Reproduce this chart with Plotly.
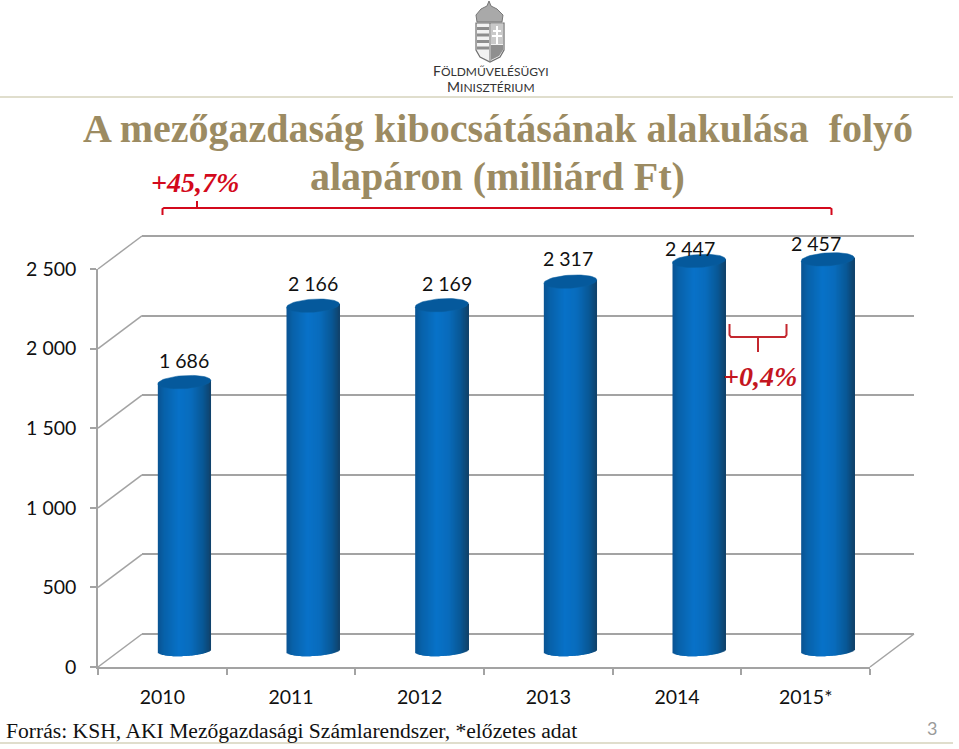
import math
import plotly.graph_objects as go

YEARS = ["2010", "2011", "2012", "2013", "2014", "2015*"]
OUTPUT_VALUES = [1686, 2166, 2169, 2317, 2447, 2457]
VALUE_LABELS = ["1 686", "2 166", "2 169", "2 317", "2 447", "2 457"]
AXIS_VALUES = [0, 500, 1000, 1500, 2000, 2500]
AXIS_LABELS = ["0", "500", "1 000", "1 500", "2 000", "2 500"]

LABEL_SHIFT_X = [0, 0, 5, -2, -9, -12]
LABEL_SHIFT_Y = [22, 22, 22, 23, 12, 16]

W, H = 959, 749
FRONT_L, FRONT_R, FRONT_B, FRONT_T = 98, 870, 667, 269
DEPTH_X, DEPTH_Y = 44, 33
BAR_DX, BAR_ZERO_PY = 22, 650.5
PX_PER_UNIT = (FRONT_B - FRONT_T) / AXIS_VALUES[-1]
GREY = "#a3a3a3"
RED = "#d3091c"
TITLE_COL = "#9c8b62"
TICK_FONT = dict(family="Lato", size=19.5, color="#111111")


def fx(p):
    return p / W


def fy(p):
    return 1 - p / H


def path(points, close=False):
    s = "M " + " L ".join(f"{fx(a):.5f},{fy(b):.5f}" for a, b in points)
    return s + (" Z" if close else "")


def mix(c1, c2, t):
    return "rgb(" + ",".join(str(round(a + (b - a) * t)) for a, b in zip(c1, c2)) + ")"


STOPS = [(-1.0, (10, 84, 146)), (-0.75, (8, 98, 170)), (-0.2, (8, 114, 200)),
         (0.25, (9, 108, 188)), (0.7, (9, 88, 150)), (1.0, (16, 66, 106))]


def shade(d):
    for (a, ca), (b, cb) in zip(STOPS, STOPS[1:]):
        if d <= b:
            return mix(ca, cb, (d - a) / (b - a))
    return mix(STOPS[-1][1], STOPS[-1][1], 0)


BAR_W = 53 / ((FRONT_R - FRONT_L) / len(YEARS))
TOP_RY = 6.5 / PX_PER_UNIT
BOT_RY = 5.5 / PX_PER_UNIT
TILT = 1.6 / PX_PER_UNIT
N_SLICES = 53

fig = go.Figure()

# back wall (carries the gridlines)
fig.add_trace(go.Scatter(x=[0], y=[0], xaxis="x", yaxis="y", mode="markers",
                         marker=dict(opacity=0), hoverinfo="skip", showlegend=False))

# cylinders: thin overlaid bars form the horizontal shading and the round foot
idx = list(range(len(YEARS)))
for s in range(N_SLICES):
    d = -1 + (2 * s + 1) / N_SLICES
    bottoms = [-BOT_RY * math.sqrt(1 - d * d) + TILT * d for _ in OUTPUT_VALUES]
    tops = [v + TILT * d for v in OUTPUT_VALUES]
    slice_w = BAR_W / N_SLICES
    fig.add_trace(go.Bar(
        x=idx, y=[t - b for t, b in zip(tops, bottoms)], base=bottoms,
        width=slice_w * (2.2 if s < N_SLICES - 1 else 1), offset=d * BAR_W / 2 - slice_w / 2,
        marker=dict(color=shade(d), line=dict(width=0)),
        xaxis="x2", yaxis="y2", hoverinfo="skip", showlegend=False))

# cylinder lids
for i, v in zip(idx, OUTPUT_VALUES):
    ts = [2 * math.pi * k / 60 for k in range(61)]
    fig.add_trace(go.Scatter(
        x=[i + BAR_W / 2 * math.cos(t) for t in ts],
        y=[v + TOP_RY * math.sin(t) + TILT * math.cos(t) for t in ts],
        mode="lines", fill="toself", fillcolor="#05599c",
        line=dict(color="#0a5f9f", width=0.5),
        xaxis="x2", yaxis="y2", hoverinfo="skip", showlegend=False))

# front axes
fig.add_trace(go.Scatter(x=YEARS, y=OUTPUT_VALUES, xaxis="x3", yaxis="y3", mode="markers",
                         marker=dict(opacity=0), hoverinfo="skip", showlegend=False))

shapes = []
LINE = dict(color=GREY, width=1.5)
for v in AXIS_VALUES:
    py = FRONT_B - v * PX_PER_UNIT
    shapes.append(dict(type="line", xref="paper", yref="paper", layer="below",
                       x0=fx(FRONT_L), y0=fy(py), x1=fx(FRONT_L + DEPTH_X), y1=fy(py - DEPTH_Y),
                       line=LINE))
shapes.append(dict(type="line", xref="paper", yref="paper", layer="below",
                   x0=fx(FRONT_R), y0=fy(FRONT_B), x1=fx(FRONT_R + DEPTH_X), y1=fy(FRONT_B - DEPTH_Y),
                   line=LINE))

# header / footer rules
for py, x1 in ((97, 953), (743, 953)):
    shapes.append(dict(type="line", xref="paper", yref="paper", x0=0, x1=fx(x1), y0=fy(py), y1=fy(py),
                       line=dict(color="#d6d3bd", width=1.5)))

# braces
shapes.append(dict(type="path", xref="paper", yref="paper", line=dict(color=RED, width=2),
                   path=path([(162.5, 215), (162.5, 209), (164, 208), (830, 208), (831.5, 209), (831.5, 215)])))
shapes.append(dict(type="path", xref="paper", yref="paper", line=dict(color=RED, width=2),
                   path=path([(197, 208), (197, 201)])))
shapes.append(dict(type="path", xref="paper", yref="paper", line=dict(color="#c4272e", width=2),
                   path=path([(729.5, 324), (729.5, 335), (731, 337), (785, 337), (786.5, 335), (786.5, 324)])))
shapes.append(dict(type="path", xref="paper", yref="paper", line=dict(color="#c4272e", width=2),
                   path=path([(758, 337), (758, 352)])))

# crest of the ministry logo
CREST = "#8d8d8d"
shapes.append(dict(type="path", xref="paper", yref="paper", fillcolor="#a9a9a9",
                   line=dict(color="#777777", width=1),
                   path=path([(477, 22), (476, 15), (481, 9), (487, 6), (489, 1), (491, 6), (497, 9),
                              (503, 15), (502, 22)], True)))
shapes.append(dict(type="path", xref="paper", yref="paper", fillcolor="#f2f2f2",
                   line=dict(color="#6f6f6f", width=1.2),
                   path=path([(476, 23), (504, 23), (504, 50), (500, 57), (490, 62), (480, 57), (476, 50)], True)))
for k in range(4):
    shapes.append(dict(type="rect", xref="paper", yref="paper", fillcolor=CREST, line=dict(width=0),
                       x0=fx(477), x1=fx(489), y0=fy(27 + 6.5 * k), y1=fy(30 + 6.5 * k)))
shapes.append(dict(type="rect", xref="paper", yref="paper", fillcolor="#c9c9c9", line=dict(width=0),
                   x0=fx(491), x1=fx(503), y0=fy(24), y1=fy(44)))
shapes.append(dict(type="rect", xref="paper", yref="paper", fillcolor="#ffffff", line=dict(width=0),
                   x0=fx(496), x1=fx(498), y0=fy(26), y1=fy(44)))
for py, a, b in ((30, 493, 501), (35, 492, 502)):
    shapes.append(dict(type="rect", xref="paper", yref="paper", fillcolor="#ffffff", line=dict(width=0),
                       x0=fx(a), x1=fx(b), y0=fy(py), y1=fy(py + 2)))
shapes.append(dict(type="path", xref="paper", yref="paper", fillcolor="#8f8f8f", line=dict(width=0),
                   path=path([(491, 45), (503, 45), (503, 50), (499, 56), (491, 60)], True)))
shapes.append(dict(type="line", xref="paper", yref="paper", x0=fx(490), x1=fx(490), y0=fy(23), y1=fy(61),
                   line=dict(color="#6f6f6f", width=1)))

ann = []


def text(px, py, s, size, color, family="Liberation Serif", anchor="center"):
    ann.append(dict(xref="paper", yref="paper", x=fx(px), y=fy(py), text=s, showarrow=False,
                    xanchor=anchor, yanchor="middle", font=dict(family=family, size=size, color=color)))


for i, v, lab, sx, sy in zip(idx, OUTPUT_VALUES, VALUE_LABELS, LABEL_SHIFT_X, LABEL_SHIFT_Y):
    ann.append(dict(xref="x2", yref="y2", x=i, y=v, text=lab, showarrow=False, xshift=sx, yshift=sy,
                    xanchor="center", yanchor="middle", font=TICK_FONT))

text(497.5, 128, "<b>A mezőgazdaság kibocsátásának alakulása\u00a0\u00a0folyó</b>", 40, TITLE_COL)
text(497, 177, "<b>alapáron (milliárd Ft)</b>", 40, TITLE_COL)
text(194.5, 182, "<b><i>+45,7%</i></b>", 28, RED)
text(760, 376, "<b><i>+0,4%</i></b>", 28, "#c4161f")
text(4, 731, "Forrás: KSH, AKI Mezőgazdasági Számlarendszer, *előzetes adat", 21.6, "#111111", anchor="left")
text(932, 728, "3", 18, "#9a9a9a", family="Lato")
text(490.5, 78, "<span style='font-size:14px'>F</span>ÖLDMŰVELÉSÜGYI<br>"
                "<span style='font-size:14px'>M</span>INISZTÉRIUM", 12, "#333333", family="Lato")

# The back wall axis is a few pixels longer than the scale so that the 0 and 2 500 gridlines are drawn.
WALL_PAD = 4
y_back_dom = [fy(FRONT_B - DEPTH_Y + WALL_PAD), fy(FRONT_T - DEPTH_Y - WALL_PAD)]
y_back_rng = [AXIS_VALUES[0] - WALL_PAD / PX_PER_UNIT, AXIS_VALUES[-1] + WALL_PAD / PX_PER_UNIT]
bar_py_bottom, bar_py_top = FRONT_B, 200

fig.update_layout(
    width=W, height=H, margin=dict(l=0, r=0, t=0, b=0, pad=0, autoexpand=False),
    paper_bgcolor="white", plot_bgcolor="rgba(0,0,0,0)",
    barmode="overlay", showlegend=False, shapes=shapes, annotations=ann,
    xaxis=dict(domain=[fx(FRONT_L + DEPTH_X), fx(FRONT_R + DEPTH_X)], range=[0, 1], visible=False),
    yaxis=dict(domain=y_back_dom, range=y_back_rng, tickmode="array", tickvals=AXIS_VALUES,
               showgrid=True, gridcolor=GREY, gridwidth=1.5, zeroline=False, showline=False,
               ticks="", showticklabels=False),
    xaxis2=dict(domain=[fx(FRONT_L + BAR_DX), fx(FRONT_R + BAR_DX)], range=[-0.5, len(YEARS) - 0.5],
                visible=False, anchor="y2"),
    yaxis2=dict(domain=[fy(bar_py_bottom), fy(bar_py_top)],
                range=[(BAR_ZERO_PY - bar_py_bottom) / PX_PER_UNIT, (BAR_ZERO_PY - bar_py_top) / PX_PER_UNIT],
                visible=False, anchor="x2"),
    xaxis3=dict(domain=[fx(FRONT_L), fx(FRONT_R)], type="category", categoryorder="array",
                categoryarray=YEARS, range=[-0.5, len(YEARS) - 0.5], tickson="boundaries",
                ticks="outside", ticklen=6, tickcolor=GREY, tickwidth=1.5, showline=True,
                linecolor=GREY, linewidth=1.5, showgrid=False, zeroline=False, tickfont=TICK_FONT,
                ticklabelstandoff=12, anchor="y3"),
    yaxis3=dict(domain=[fy(FRONT_B), fy(FRONT_T)], range=[AXIS_VALUES[0], AXIS_VALUES[-1]],
                tickmode="array", tickvals=AXIS_VALUES, ticktext=AXIS_LABELS, ticks="outside",
                ticklen=6, tickcolor=GREY, tickwidth=1.5, showline=True, linecolor=GREY, linewidth=1.5,
                showgrid=False, zeroline=False, tickfont=TICK_FONT, ticklabelstandoff=10, anchor="x3"),
)

fig.write_html("out.html", config=dict(displayModeBar=False),
               post_script="document.body.style.margin='0';document.documentElement.style.overflow='hidden';")
